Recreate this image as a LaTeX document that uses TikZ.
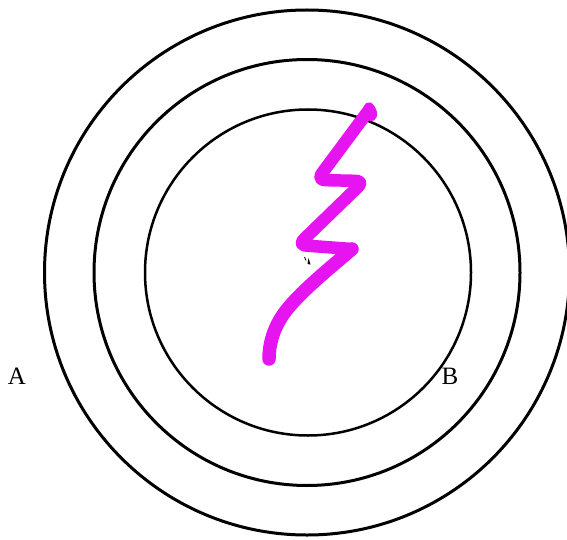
\documentclass[tikz,border=0pt]{standalone}
\usepackage{fontspec}
\setmainfont{Liberation Serif}
\definecolor{squiggle}{RGB}{230,20,240}
\tikzset{
  ring/.style={draw=black, line width=3pt},
  thinring/.style={draw=black, line width=2.5pt},
  lbl/.style={font=\fontsize{25}{30}\selectfont, inner sep=0pt},
  pen/.style={draw=squiggle, line width=12.5pt, line cap=round, line join=round}
}
\begin{document}
\begin{tikzpicture}[x=1pt,y=-1pt]
\useasboundingbox (0,0) rectangle (567,540);
\fill[white] (0,0) rectangle (567,540);
\begin{scope}
\clip (0,0) rectangle (567,540);
\draw[ring] (307,272.5) circle[radius=262.5];
\draw[ring] (307,272.5) circle[radius=213];
\draw[thinring] (308,272.5) circle[radius=163];
\end{scope}
% squiggle
\draw[pen, rounded corners=8pt] (369,110) -- (317,180) -- (364,181) -- (298,245) -- (352,249);
\draw[pen, line width=13.5pt] (352,249) .. controls (330,268) and (300,292) .. (285,312)
  .. controls (273,328) and (269,345) .. (269,359);
\fill[squiggle] (363,108) .. controls (367,98) and (374,102) .. (377,112) .. controls (378,120) and (372,124) .. (366,119) -- cycle;
% tiny mark
\draw[black, line width=0.8pt] (304.5,257) -- (306,260.5);
\fill[black] (308.5,258) -- (307.5,264) -- (310.5,264.5) -- cycle;
\node[lbl] (A) at (17,376) {A};
\node[lbl] (B) at (450,376) {B};
\end{tikzpicture}
\end{document}
